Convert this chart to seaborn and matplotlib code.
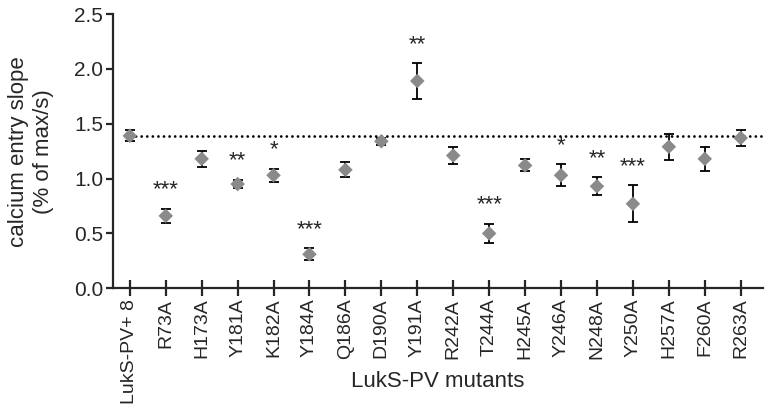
import numpy as np
import pandas as pd
import seaborn as sns
from matplotlib import pyplot as plt

mutants = ['LukS-PV+ 8', 'R73A', 'H173A', 'Y181A', 'K182A', 'Y184A', 'Q186A',
           'D190A', 'Y191A', 'R242A', 'T244A', 'H245A', 'Y246A', 'N248A',
           'Y250A', 'H257A', 'F260A', 'R263A']
slope = [1.39, 0.66, 1.18, 0.95, 1.03, 0.31, 1.08, 1.34, 1.89, 1.21, 0.50,
         1.12, 1.03, 0.93, 0.77, 1.29, 1.18, 1.37]
sem = [0.05, 0.065, 0.07, 0.04, 0.06, 0.055, 0.07, 0.03, 0.16, 0.075, 0.09,
       0.055, 0.10, 0.08, 0.17, 0.12, 0.11, 0.07]
signif = ['', '***', '', '**', '*', '***', '', '', '**', '', '***', '', '*',
          '**', '***', '', '', '']
reference = 1.39

df = pd.DataFrame({'Mutant': mutants, 'Slope': slope, 'SEM': sem,
                   'Signif': signif})

sns.set_style('ticks')
plt.rcParams['font.family'] = ['Liberation Sans', 'DejaVu Sans']

fig = plt.figure(figsize=(7.68, 4.13), dpi=100)
ax = fig.add_axes([0.147, 0.302, 0.846, 0.664])

ax.errorbar(df.Mutant, df.Slope, yerr=df.SEM, fmt='none', ecolor='black',
            elinewidth=1.3, capsize=3.6, capthick=1.3, zorder=2)
sns.scatterplot(data=df, x='Mutant', y='Slope', marker='D', s=55,
                color='#8a8a8a', edgecolor='none', ax=ax, zorder=3)

ax.axhline(reference, xmin=0.027, xmax=1, color='black', lw=2.0,
           ls=(0, (0.01, 2.0)), dash_capstyle='round', zorder=1)

# significance stars above the error bars
for mut, y, e, star in zip(df.Mutant, df.Slope, df.SEM, df.Signif):
    if star:
        ax.annotate(star, xy=(mut, y + e), xytext=(0, 6),
                    textcoords='offset points', ha='center', va='bottom',
                    fontsize=16)

ax.set_xlim(-0.47, len(mutants) - 1 + 0.61)
ax.set_ylim(0, 2.5)
ax.set_yticks(np.arange(0, 2.51, 0.5))
ax.set_yticklabels([f'{v:.1f}' for v in np.arange(0, 2.51, 0.5)])
ax.set_xticks(range(len(mutants)))
ax.set_xticklabels(mutants, rotation=90)

sns.despine(ax=ax)
for side in ('left', 'bottom'):
    ax.spines[side].set_linewidth(1.6)
ax.tick_params(axis='x', direction='inout', length=11, width=1.6,
               labelsize=14, pad=2)
ax.tick_params(axis='y', direction='out', length=5, width=1.6,
               labelsize=15, pad=2)

ax.set_xlabel('LukS-PV mutants', fontsize=16)
ax.xaxis.set_label_coords(0.5, -0.30)
ax.set_ylabel('calcium entry slope\n(% of max/s)', fontsize=16,
              linespacing=1.25)
ax.yaxis.set_label_coords(-0.09, 0.5)

fig.savefig('out.png', dpi=100)
